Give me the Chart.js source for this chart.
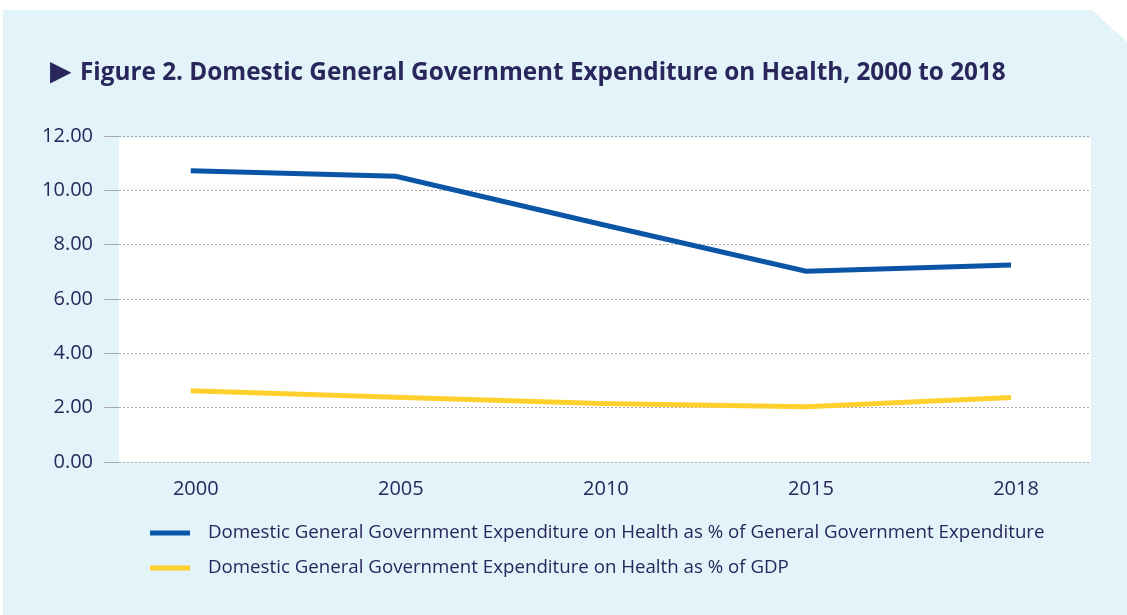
<!DOCTYPE html>
<html>
<head>
<meta charset="utf-8">
<script src="https://cdn.jsdelivr.net/npm/chart.js@4"></script>
<style>
    body { margin: 0; background: #ffffff; }
    #panel {
        position: absolute; left: 3px; top: 10px; width: 1124px; height: 605px;
        background: #e2f3fa;
        clip-path: polygon(0 0, 1089px 0, 1124px 32px, 1124px 605px, 0 605px);
    }
    #resultPlot { position: absolute; left: 0; top: 0; }
</style>
</head>
<body>
<div id="panel"></div>
<canvas id="resultPlot" width="1127" height="615"></canvas>
<script>
// values
const years = ['2000', '2005', '2010', '2015', '2018'];
const shareOfGGE = [10.72, 10.52, 8.75, 7.02, 7.25];
const shareOfGDP = [2.62, 2.38, 2.15, 2.03, 2.37];
const seriesNames = [
    'Domestic General Government Expenditure on Health as % of General Government Expenditure',
    'Domestic General Government Expenditure on Health as % of GDP'
];
const figureTitle = 'Figure 2. Domestic General Government Expenditure on Health, 2000 to 2018';
const yTicks = [0, 2, 4, 6, 8, 10, 12];

const navy = '#29265b';

/**
 * white plot background, title and legend
 */
const plotDecor = {
    id: 'plotDecor',
    beforeDraw(chart) {
        const a = chart.chartArea;
        const ctx = chart.ctx;
        ctx.save();
        ctx.fillStyle = '#ffffff';
        ctx.fillRect(a.left, a.top + 2, a.right - a.left, a.bottom - a.top - 2);
        ctx.restore();
    },
    afterDraw(chart) {
        const ctx = chart.ctx;
        ctx.save();
        // title with the arrow marker
        ctx.fillStyle = navy;
        ctx.textBaseline = 'middle';
        ctx.font = '28px "DejaVu Sans"';
        ctx.fillText('\u25B6', 50, 73);
        ctx.font = 'bold 24.3px "Open Sans"';
        ctx.fillText(figureTitle, 80, 73);
        // legend
        chart.data.datasets.forEach(function(ds, i) {
            let y = 533 + i * 35;
            ctx.strokeStyle = ds.borderColor;
            ctx.lineWidth = 5;
            ctx.beginPath();
            ctx.moveTo(150, y);
            ctx.lineTo(190, y);
            ctx.stroke();
            ctx.fillStyle = navy;
            ctx.font = '18.7px "Open Sans"';
            ctx.fillText(ds.label, 208, y);
        });
        ctx.restore();
    }
};

function toPoints(values) {
    let pts = [];
    for (let i = 0; i < values.length; i++) {
        pts.push({x: i, y: values[i]});
    }
    return pts;
}

let plotArea = document.getElementById('resultPlot');
let plot = new Chart(plotArea, {
    type: 'line',
    data: {
        datasets: [
            {label: seriesNames[0], data: toPoints(shareOfGGE), borderColor: '#0a55a5', borderWidth: 5, pointRadius: 0, tension: 0},
            {label: seriesNames[1], data: toPoints(shareOfGDP), borderColor: '#fed02c', borderWidth: 5, pointRadius: 0, tension: 0}
        ]
    },
    options: {
        responsive: false,
        animation: false,
        layout: {padding: {top: 136, left: 30, right: 36, bottom: 107}},
        plugins: {
            legend: {display: false},
            tooltip: {enabled: false},
            title: {display: false}
        },
        scales: {
            x: {
                type: 'linear',
                min: -0.35,
                max: 4.39,
                grid: {display: false},
                border: {display: false},
                afterBuildTicks: function(axis) {
                    axis.ticks = years.map(function(y, i) { return {value: i}; });
                },
                ticks: {
                    color: navy,
                    font: {family: 'Open Sans', size: 20},
                    padding: 7,
                    labelOffset: 5,
                    maxRotation: 0,
                    callback: function(v) { return years[v]; }
                }
            },
            y: {
                min: 0,
                max: 12,
                afterBuildTicks: function(axis) {
                    axis.ticks = yTicks.map(function(v) { return {value: v}; });
                },
                afterFit: function(axis) { axis.width = 89; },
                grid: {color: '#a9a9a9', lineWidth: 1, tickLength: 15},
                border: {display: false, dash: [2, 2]},
                ticks: {
                    color: navy,
                    font: {family: 'Open Sans', size: 20},
                    padding: 11,
                    callback: function(v) { return v.toFixed(2); }
                }
            }
        }
    },
    plugins: [plotDecor]
});
</script>
</body>
</html>
